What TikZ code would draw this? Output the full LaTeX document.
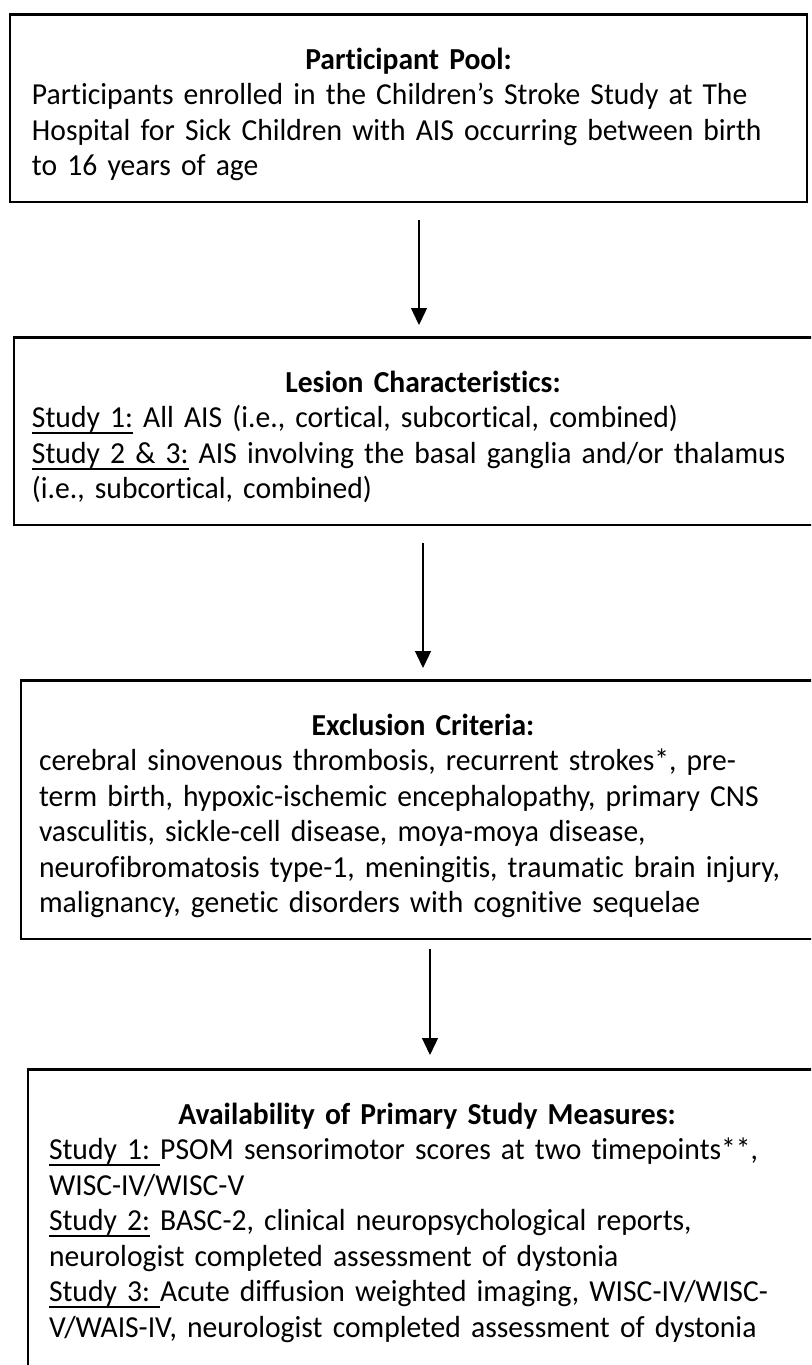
\documentclass[tikz,border=0pt]{standalone}
\usepackage{fontspec}
\setmainfont[Ligatures=NoCommon, FakeStretch=0.97]{Carlito}
\usetikzlibrary{arrows.meta, positioning}
\definecolor{ink}{HTML}{000000}
\tikzset{
  font=\fontsize{15.25}{17.75}\selectfont,
  >={Triangle[length=8.5pt, width=8pt]},
  %
  box/.style={
    draw=ink, line width=1.3pt, fill=white, align=left,
    inner ysep=0pt, text=ink, anchor=north,
  },
  %
  flow/.style={draw=ink, line width=0.65pt, ->},
}
% heading row with room above it, last row with room below it
\newcommand{\headline}[1]{\centerline{\rule{0pt}{27.5pt}\textbf{#1}}}
\newcommand{\lastline}[1]{\leftline{#1\rule[-13pt]{0pt}{13pt}}}
% underlined study label
\newcommand{\studylbl}[1]{\setbox0\hbox{#1}\rlap{\rule[-3.1pt]{\wd0}{0.8pt}}\box0\relax}

\begin{document}
\begin{tikzpicture}[x=0.5pt, y=-0.5pt]

  \useasboundingbox (0,0) rectangle (811,1365);
  \fill[white] (0,0) rectangle (811,1365);
  \clip (0,0) rectangle (811,1365);

  % --- the four stages ---------------------------------------------------
  \node[box, text width=376.5pt, inner xsep=11pt] (pool) at (408.5,13) {%
    \headline{Participant Pool:}
    \leftline{Participants enrolled in the Children’s Stroke Study at The}
    \leftline{Hospital for Sick Children with AIS occurring between birth}
    \lastline{to 16 years of age}};

  \node[box, text width=391pt, inner xsep=9pt] (lesion) at (423,336) {%
    \headline{Lesion Characteristics:}
    \leftline{\studylbl{Study 1:} All AIS (i.e., cortical, subcortical, combined)}
    \leftline{\studylbl{Study 2 \& 3:} AIS involving the basal ganglia and/or thalamus}
    \lastline{(i.e., subcortical, combined)}};

  \node[box, text width=384pt, inner xsep=9pt] (exclusion) at (423,679) {%
    \headline{Exclusion Criteria:}
    \leftline{cerebral sinovenous thrombosis, recurrent strokes*, pre-}
    \leftline{term birth, hypoxic-ischemic encephalopathy, primary CNS}
    \leftline{vasculitis, sickle-cell disease, moya-moya disease,}
    \leftline{neurofibromatosis type-1, meningitis, traumatic brain injury,}
    \lastline{malignancy, genetic disorders with cognitive sequelae}};

  \node[box, text width=378pt, inner xsep=10.5pt] (measures) at (427,1068) {%
    \headline{Availability of Primary Study Measures:}
    \leftline{\studylbl{Study 1:\ }PSOM sensorimotor scores at two timepoints**,}
    \leftline{WISC-IV/WISC-V}
    \leftline{\studylbl{Study 2:} BASC-2, clinical neuropsychological reports,}
    \leftline{neurologist completed assessment of dystonia}
    \leftline{\studylbl{Study 3:\ }Acute diffusion weighted imaging, WISC-IV/WISC-}
    \leftline{V/WAIS-IV, neurologist completed assessment of dystonia\rule[-25pt]{0pt}{25pt}}};

  % --- the arrows between them -------------------------------------------
  \draw[flow, shorten <=8.5pt, shorten >=5.5pt]
    ([xshift=5.25pt]pool.south) -- ([xshift=-2pt]lesion.north);
  \draw[flow, shorten <=8.5pt, shorten >=5.5pt]
    (lesion.south) -- (exclusion.north);
  \draw[flow, shorten <=4.5pt, shorten >=6.5pt]
    ([xshift=3.5pt]exclusion.south) -- ([xshift=1.5pt]measures.north);

\end{tikzpicture}
\end{document}
